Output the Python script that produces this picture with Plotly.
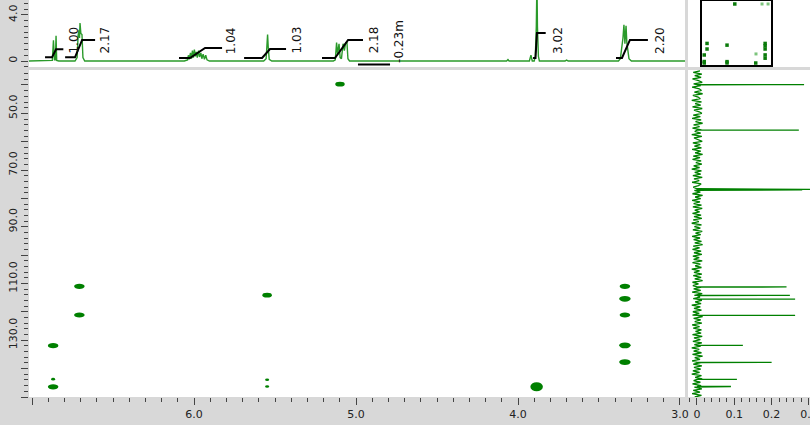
import numpy as np
import plotly.graph_objects as go

W, H = 810, 425
FONT = "DejaVu Sans"
GREEN = "#008000"
SPEC_GREEN = "#2a9a2a"
BG = "#d8d8d8"
TICK = "#444444"

# ---------------- 1H spectrum (top trace) ----------------
H_PPM = [7.02, 6.90, 6.875, 6.868, 6.862, 6.856, 6.852, 6.848, 6.835,
         6.735, 6.722, 6.716, 6.710, 6.707, 6.704, 6.699, 6.692, 6.686, 6.675,
         6.06, 6.040, 6.035, 6.030, 6.022, 6.016, 6.010, 6.004, 5.998, 5.992, 5.986,
         5.980, 5.972, 5.966, 5.958, 5.952, 5.944, 5.936, 5.928, 5.920, 5.905,
         5.57, 5.555, 5.549, 5.546, 5.542, 5.536, 5.52,
         5.14, 5.128, 5.120, 5.114, 5.105, 5.098, 5.090, 5.080, 5.072, 5.064, 5.056, 5.050, 5.04,
         4.07, 4.062, 4.055,
         3.93, 3.920, 3.912, 3.900, 3.893, 3.887, 3.883, 3.880, 3.874, 3.868,
         3.71, 3.700, 3.69,
         3.38, 3.368, 3.352, 3.346, 3.340, 3.333, 3.328, 3.315, 3.30, 2.96]
H_INT = [0.0, 0.0, 0.05, 1.8, 0.1, 0.1, 2.2, 0.05, 0.0,
         0.0, 0.3, 2.2, 2.7, 2.0, 3.3, 2.4, 2.3, 0.3, 0.0,
         0.0, 0.1, 0.5, 0.15, 0.7, 0.2, 0.9, 0.3, 1.0, 0.4, 0.8,
         0.3, 0.9, 0.35, 0.7, 0.2, 0.6, 0.15, 0.5, 0.1, 0.0,
         0.0, 0.2, 1.4, 2.3, 1.2, 0.15, 0.0,
         0.0, 0.1, 1.6, 0.6, 1.5, 0.3, 0.2, 1.5, 0.9, 1.6, 1.6, 0.2, 0.0,
         0.0, 0.12, 0.0,
         0.0, 0.5, 0.0, 0.0, 0.4, 3.0, 7.0, 3.0, 0.4, 0.0,
         0.0, 0.08, 0.0,
         0.0, 0.2, 2.0, 3.15, 1.5, 3.05, 1.6, 0.2, 0.0, 0.0]

# ---------------- integrals ----------------
INT_START = [6.92, 6.796, 6.093, 5.691, 5.210, 4.988, 3.907, 3.395]
INT_RISE0 = [6.877, 6.735, 6.025, 5.580, 5.130, 4.988, 3.892, 3.358]
INT_RISE1 = [6.852, 6.691, 5.932, 5.531, 5.049, 4.790, 3.883, 3.309]
INT_END = [6.807, 6.611, 5.827, 5.432, 4.957, 4.790, 3.829, 3.198]
INT_BASE = [0.32, 0.32, 0.26, 0.26, 0.26, -0.30, 0.26, 0.26]
INT_TOP = [1.02, 1.83, 1.13, 1.04, 1.83, -0.30, 2.43, 1.83]
INT_LABEL = ["1.00", "2.17", "1.04", "1.03", "2.18", "-0.23m", "3.02", "2.20"]
INT_LABEL_PPM = [6.740, 6.549, 5.772, 5.364, 4.889, 4.735, 3.753, 3.123]
INT_LABEL_LEVEL = [0.45, 0.45, 0.45, 0.45, 0.45, -0.30, 0.40, 0.40]

# ---------------- 2D cross peaks ----------------
PK_H = [5.099, 6.708, 6.708, 6.870, 6.870, 6.870, 5.549, 5.549, 5.549,
        3.340, 3.340, 3.340, 3.340, 3.340, 3.885]
PK_C = [39.7, 111.0, 121.1, 131.9, 143.7, 146.4, 114.1, 143.9, 146.3,
        111.0, 115.4, 121.1, 131.8, 137.7, 146.4]
PK_I = [0.9, 1.0, 1.0, 1.0, 0.15, 1.0, 0.9, 0.2, 0.2,
        1.0, 1.1, 1.0, 1.1, 1.1, 1.6]
# weak correlations only visible in the overview
WEAK_H = [3.52, 3.17, 3.87]
WEAK_C = [39.7, 39.7, 130.0]

# ---------------- 13C projection (right trace) ----------------
C_PEAK_PPM = [39.9, 55.9, 76.6, 76.8, 77.0, 111.2, 114.2, 115.5, 121.2, 131.8, 137.8, 143.8, 146.3]
C_PEAK_INT = [0.287, 0.273, 0.048, 0.33, 0.282, 0.240, 0.249, 0.263, 0.263, 0.123, 0.200, 0.107, 0.091]
C_NOISE = [0.008, -0.010, 0.013, -0.006, 0.011, -0.012, 0.004, 0.014, -0.009, 0.010,
           -0.013, 0.006, 0.012, -0.007, 0.015, -0.011, 0.003, 0.009, -0.014, 0.012,
           -0.005, 0.010, -0.012, 0.014, -0.008, 0.006, 0.013, -0.010, 0.009, -0.013,
           0.011, -0.004, 0.015, -0.009, 0.007, -0.012, 0.012, -0.006, 0.010, -0.014,
           0.013, -0.008, 0.005, 0.014, -0.011, 0.009, -0.007, 0.012, -0.013, 0.010,
           -0.005, 0.015, -0.010, 0.008, -0.012, 0.011, -0.003, 0.013, -0.009, 0.007,
           -0.014, 0.012, -0.006, 0.010, -0.011, 0.014, -0.008, 0.006, -0.013, 0.011,
           0.004, -0.010, 0.013, -0.007, 0.009, -0.012, 0.015, -0.005, 0.010, -0.013,
           0.008, -0.009, 0.012, -0.011, 0.014, -0.006, 0.007, -0.012, 0.011, -0.008,
           0.013, -0.010, 0.005, -0.014, 0.012, -0.007, 0.009, -0.011, 0.014, -0.004,
           0.010, -0.013, 0.008, -0.009, 0.012, -0.006, 0.015, -0.010, 0.007, -0.012,
           0.011, -0.008, 0.013, -0.011, 0.006, -0.009, 0.014, -0.012, 0.009, -0.005,
           0.012, -0.014, 0.007, -0.008, 0.013, -0.010, 0.011, -0.006, 0.015, -0.012,
           0.004, -0.011, 0.012, -0.009, 0.010, -0.013, 0.014, -0.007, 0.008, -0.010,
           0.013, -0.005, 0.011, -0.014, 0.009, -0.008, 0.012, -0.011, 0.006, -0.012,
           0.015, -0.009, 0.010, -0.006, 0.013, -0.013, 0.007, -0.010, 0.012, -0.004,
           0.011, -0.012, 0.014, -0.008, 0.009, -0.011, 0.013, -0.007, 0.010, -0.014,
           0.006, -0.009, 0.012, -0.012, 0.015, -0.006, 0.008, -0.013, 0.011, -0.010,
           0.013, -0.008, 0.010, -0.011, 0.007, -0.014, 0.012, -0.005, 0.014, -0.009,
           0.009, -0.012, 0.011, -0.007, 0.013, -0.010, 0.008, -0.013, 0.012, -0.006]

# ---------------- tick labels ----------------
X_TICKS = [3, 4, 5, 6, 7]
X_TICKTEXT = ["3.0", "4.0", "5.0", "6.0", ""]
Y_TICKS = [40, 50, 60, 70, 80, 90, 100, 110, 120, 130, 140, 150]
Y_TICKTEXT = ["", "50.0", "", "70.0", "", "90.0", "", "110.0", "", "130.0", "", ""]
TOP_TICKS = [0, 4]
TOP_TICKTEXT = ["0", "4.0"]
R_TICKS = [0, 0.1, 0.2, 0.3]
R_TICKTEXT = ["0", "0.1", "0.2", "0.3"]

# ---------------- geometry ----------------
def fx(px):
    return px / W

def fy(py):
    return 1 - py / H

X_RANGE = [7.019, 2.969]
Y_RANGE = [150, 34.72]
MAIN_XDOM = [fx(29), fx(685)]
MAIN_YDOM = [fy(397), fy(70)]
TOP_YDOM = [fy(67), 1.0]
RIGHT_XDOM = [fx(688), 1.0]

fig = go.Figure()

# top spectrum
fig.add_trace(go.Scatter(x=H_PPM, y=H_INT, xaxis="x2", yaxis="y2", mode="lines",
                         line=dict(color=SPEC_GREEN, width=1.4), hoverinfo="skip"))

# integrals
ix, iy = [], []
for s, r0, r1, e, b, t in zip(INT_START, INT_RISE0, INT_RISE1, INT_END, INT_BASE, INT_TOP):
    ix += [s, r0, r1, e, None]
    iy += [b, b, t, t, None]
fig.add_trace(go.Scatter(x=ix, y=iy, xaxis="x2", yaxis="y2", mode="lines",
                         line=dict(color="black", width=2), hoverinfo="skip"))

# main 2D placeholder (peaks drawn as ellipse shapes on the x/y axes)
fig.add_trace(go.Scatter(x=PK_H, y=PK_C, xaxis="x", yaxis="y", mode="markers",
                         marker=dict(size=1, color=GREEN, opacity=0), hoverinfo="skip"))

px_per_ppm = (MAIN_XDOM[1] - MAIN_XDOM[0]) * W / abs(X_RANGE[0] - X_RANGE[1])
px_per_c = (MAIN_YDOM[1] - MAIN_YDOM[0]) * H / abs(Y_RANGE[0] - Y_RANGE[1])
shapes = []
for h, c, inten in zip(PK_H, PK_C, PK_I):
    if inten < 0.5:
        wpx, hpx = 4.0, 2.6
    elif inten > 1.4:
        wpx, hpx = 12.5, 9.0
    else:
        wpx, hpx = 10.5 + 2 * (inten - 1.0) * 5, 5.2 + (inten - 1.0) * 5
    dx = wpx / 2 / px_per_ppm
    dy = hpx / 2 / px_per_c
    shapes.append(dict(type="circle", xref="x", yref="y", x0=h - dx, x1=h + dx,
                       y0=c - dy, y1=c + dy, fillcolor=GREEN, line=dict(width=0)))

# 13C projection
pts = [(c, v) for c, v in zip(np.linspace(35, 150, len(C_NOISE)), C_NOISE)]
for c, v in zip(C_PEAK_PPM, C_PEAK_INT):
    pts += [(c - 0.02, 0.0), (c, v), (c + 0.02, 0.0)]
pts.sort(key=lambda p: p[0])
fig.add_trace(go.Scatter(x=[p[1] for p in pts], y=[p[0] for p in pts], xaxis="x3", yaxis="y3",
                         mode="lines", line=dict(color=GREEN, width=1.3), hoverinfo="skip"))

# top-right white panel placeholder
fig.add_trace(go.Scatter(x=[0], y=[0], xaxis="x4", yaxis="y4", mode="markers",
                         marker=dict(opacity=0), hoverinfo="skip"))

# overview box
fig.add_trace(go.Scatter(x=PK_H, y=PK_C, xaxis="x5", yaxis="y5", mode="markers",
                         marker=dict(symbol="square", size=3.5, color="#0a7a0a"), hoverinfo="skip"))
fig.add_trace(go.Scatter(x=WEAK_H, y=WEAK_C, xaxis="x5", yaxis="y5", mode="markers",
                         marker=dict(symbol="square", size=3, color="#7cc47c"), hoverinfo="skip"))

tickfont = dict(family=FONT, size=11, color="#222222")
base_axis = dict(showgrid=False, zeroline=False, showline=False, automargin=False)

annotations = []
for txt, xp, lv in zip(INT_LABEL, INT_LABEL_PPM, INT_LABEL_LEVEL):
    annotations.append(dict(x=xp, y=lv, xref="x2", yref="y2", text=txt, textangle=-90,
                            showarrow=False, xanchor="center", yanchor="bottom",
                            font=dict(family=FONT, size=12, color="#111111")))

fig.update_layout(
    width=W, height=H, margin=dict(l=0, r=0, t=0, b=0, autoexpand=False),
    paper_bgcolor=BG, plot_bgcolor="white", showlegend=False,
    shapes=shapes, annotations=annotations,
    xaxis=dict(**base_axis, domain=MAIN_XDOM, range=X_RANGE, anchor="y",
               tickvals=X_TICKS, ticktext=X_TICKTEXT, ticks="outside", ticklen=7,
               tickcolor=TICK, tickfont=tickfont, ticklabeloverflow="allow",
               minor=dict(dtick=0.1, ticks="outside", ticklen=4, tickcolor=TICK)),
    yaxis=dict(**base_axis, domain=MAIN_YDOM, range=Y_RANGE, anchor="x",
               tickvals=Y_TICKS, ticktext=Y_TICKTEXT, tickangle=-90, ticks="outside",
               ticklen=7, tickcolor=TICK, tickfont=tickfont, ticklabelshift=5,
               minor=dict(dtick=2, ticks="outside", ticklen=4, tickcolor=TICK)),
    xaxis2=dict(**base_axis, domain=MAIN_XDOM, range=X_RANGE, anchor="y2",
                showticklabels=False, ticks=""),
    yaxis2=dict(**base_axis, domain=TOP_YDOM, range=[-0.52, 5.30], anchor="x2",
                tickvals=TOP_TICKS, ticktext=TOP_TICKTEXT, tickangle=-90, ticks="outside",
                ticklen=7, tickcolor=TICK, tickfont=tickfont,
                minor=dict(dtick=0.5, ticks="outside", ticklen=4, tickcolor=TICK)),
    xaxis3=dict(**base_axis, domain=RIGHT_XDOM, range=[-0.0241, 0.3029], anchor="y3",
                tickvals=R_TICKS, ticktext=R_TICKTEXT, ticks="outside", ticklen=7,
                tickcolor=TICK, tickfont=tickfont, ticklabeloverflow="allow",
                minor=dict(dtick=0.02, ticks="outside", ticklen=4, tickcolor=TICK)),
    yaxis3=dict(**base_axis, domain=MAIN_YDOM, range=Y_RANGE, anchor="x3",
                showticklabels=False, ticks=""),
    xaxis4=dict(**base_axis, domain=RIGHT_XDOM, range=[0, 1], anchor="y4",
                showticklabels=False, ticks=""),
    yaxis4=dict(**base_axis, domain=TOP_YDOM, range=[0, 1], anchor="x4",
                showticklabels=False, ticks=""),
    xaxis5=dict(showgrid=False, zeroline=False, automargin=False, domain=[fx(702), fx(771)],
                range=[7.0, 3.0], anchor="y5", showticklabels=False, ticks="", showline=True,
                mirror=True, linecolor="black", linewidth=2),
    yaxis5=dict(showgrid=False, zeroline=False, automargin=False, domain=[fy(65), fy(1)],
                range=[150, 34.3], anchor="x5", showticklabels=False, ticks="", showline=True,
                mirror=True, linecolor="black", linewidth=2),
)

fig.write_html("out.html", config={"displayModeBar": False},
               post_script="document.body.style.margin='0';document.body.style.overflow='hidden';")
